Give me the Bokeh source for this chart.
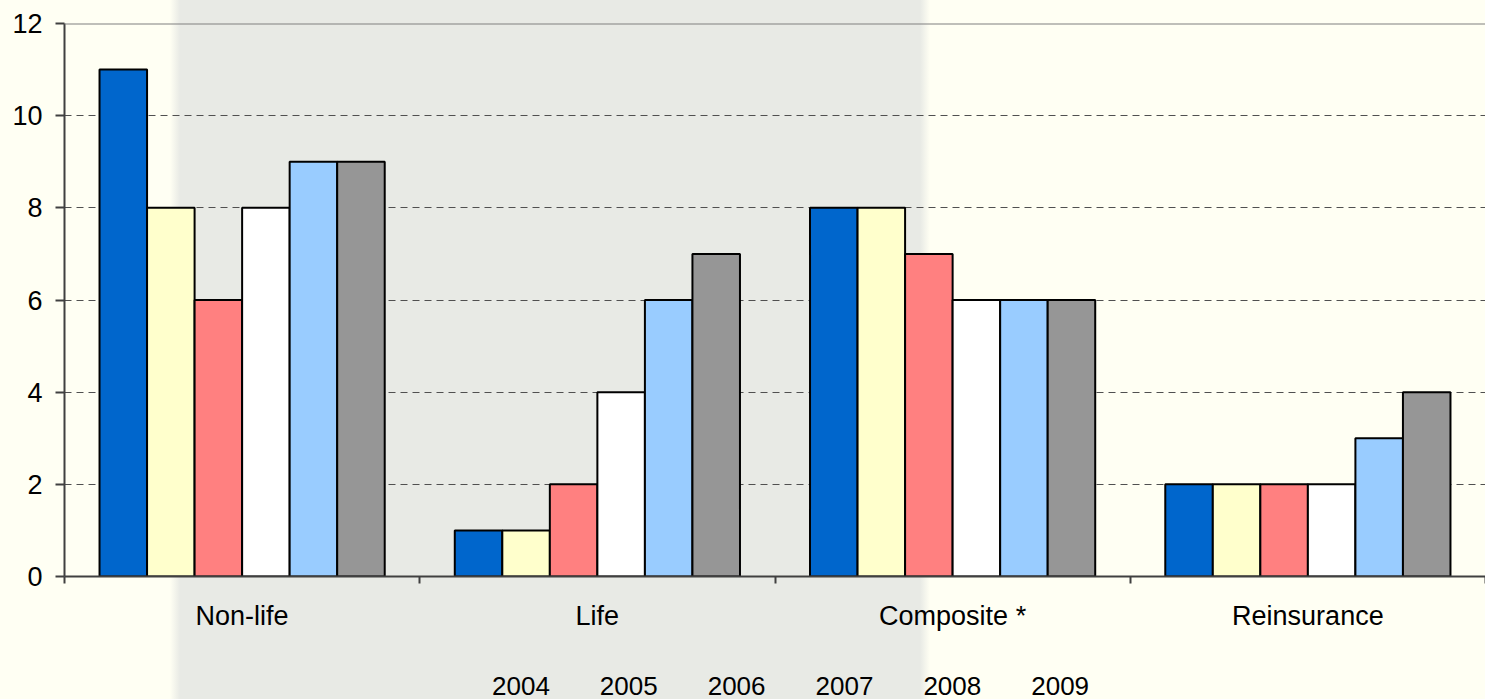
from bokeh.plotting import figure
from bokeh.layouts import column
from bokeh.models import (ColumnDataSource, FixedTicker, Legend, LegendItem, Span, Range1d,
                          CDSView, IndexFilter)
from bokeh.transform import dodge
from bokeh.embed import file_html
from bokeh.resources import INLINE

categories = ["Non-life", "Life", "Composite *", "Reinsurance"]
years = ["2004", "2005", "2006", "2007", "2008", "2009"]
v2004 = [11, 1, 8, 2]
v2005 = [8, 1, 8, 2]
v2006 = [6, 2, 7, 2]
v2007 = [8, 4, 6, 2]
v2008 = [9, 6, 6, 3]
v2009 = [9, 7, 6, 4]
series = [v2004, v2005, v2006, v2007, v2008, v2009]
colors = ["#0066CC", "#FFFFCC", "#FF8080", "#FFFFFF", "#99CCFF", "#969696"]
y_ticks = [0, 2, 4, 6, 8, 10, 12]

FONT = "Liberation Sans"
BG = {"background": "linear-gradient(to right, #FFFFF3 0px, #FFFFF3 170px, #E8EAE5 180px, #E8EAE5 920px, #FFFFF3 930px, #FFFFF3 100%)"}

centers = [i + 0.5 for i in range(len(categories))]
data = {"x": centers}
for y, s in zip(years, series):
    data["y" + y] = s
src = ColumnDataSource(data)

bw = 0.1338

p = figure(width=1485, height=645, output_backend="svg", toolbar_location=None,
           x_range=Range1d(0, len(categories)), y_range=Range1d(0, 12),
           min_border_left=64, min_border_top=23, min_border_right=0, min_border_bottom=69)
p.background_fill_color = None
p.border_fill_color = None
p.outline_line_color = None
p.styles = BG

for j, (y, c) in enumerate(zip(years, colors)):
    p.vbar(x=dodge("x", (j - 2.5) * bw), top="y" + y, width=bw, bottom=0, source=src,
           fill_color=c, line_color="black", line_width=2)

# top border line at 12
p.add_layout(Span(location=12, dimension="width", line_color="#808080", line_width=2))

# y axis
ya = p.yaxis[0]
ya.ticker = FixedTicker(ticks=y_ticks)
ya.axis_line_color = "#404040"
ya.axis_line_width = 2
ya.major_tick_line_color = "#404040"
ya.major_tick_line_width = 2
ya.major_tick_out = 9
ya.major_tick_in = 0
ya.minor_tick_line_color = None
ya.major_label_standoff = 13
ya.major_label_text_font = FONT
ya.major_label_text_font_size = "27px"
ya.major_label_text_color = "black"

# x axis
xa = p.xaxis[0]
xa.ticker = FixedTicker(ticks=centers, minor_ticks=list(range(0, len(categories) + 1)))
xa.major_label_overrides = {c: lab for c, lab in zip(centers, categories)}
xa.axis_line_color = "#404040"
xa.axis_line_width = 2
xa.major_tick_line_color = None
xa.major_tick_out = 0
xa.minor_tick_line_color = "#404040"
xa.minor_tick_line_width = 2
xa.minor_tick_out = 7
xa.minor_tick_in = 0
xa.major_label_standoff = 17
xa.major_label_text_font = FONT
xa.major_label_text_font_size = "27px"
xa.major_label_text_color = "black"

p.xgrid.grid_line_color = None
p.ygrid.ticker = FixedTicker(ticks=[2, 4, 6, 8, 10])
p.ygrid.grid_line_color = "#505050"
p.ygrid.grid_line_dash = "7 5"
p.ygrid.grid_line_width = 1

# legend strip below the chart
p2 = figure(width=1485, height=54, output_backend="svg", toolbar_location=None,
            x_range=Range1d(0, len(categories)), y_range=Range1d(-10, -9),
            x_axis_location=None, y_axis_location=None,
            min_border_left=0, min_border_top=0, min_border_right=0, min_border_bottom=0)
p2.background_fill_color = None
p2.border_fill_color = None
p2.outline_line_color = None
p2.grid.visible = False
p2.styles = BG

leg_renderers = []
for j, (y, c) in enumerate(zip(years, colors)):
    r = p2.vbar(x=dodge("x", (j - 2.5) * bw), top="y" + y, width=bw, bottom=0, source=src,
                view=CDSView(filter=IndexFilter(indices=[])),
                fill_color=c, line_color="black", line_width=2)
    leg_renderers.append(r)

legend = Legend(items=[LegendItem(label=y, renderers=[r]) for y, r in zip(years, leg_renderers)],
                orientation="horizontal", location=(405, -3))
legend.background_fill_alpha = 0
legend.border_line_color = None
legend.label_text_font = FONT
legend.label_text_font_size = "26px"
legend.label_text_color = "black"
legend.glyph_width = 18
legend.glyph_height = 18
legend.label_standoff = 5
legend.spacing = 27
legend.margin = 0
legend.padding = 0
p2.add_layout(legend, "center")

layout = column(p, p2, spacing=0)
open("out.html", "w").write(file_html(layout, INLINE))
